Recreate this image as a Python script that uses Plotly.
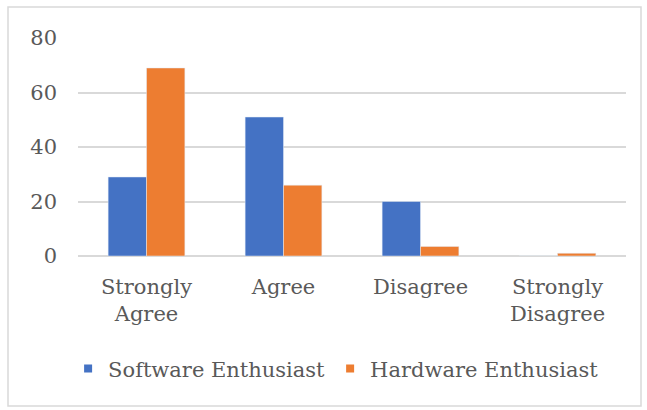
import plotly.graph_objects as go

categories = ["Strongly<br>Agree", "Agree", "Disagree", "Strongly<br>Disagree"]
software = [29, 51, 20, 0]
hardware = [69, 26, 3.5, 1]
y_ticks = [0, 20, 40, 60, 80]

BLUE = "#4472C4"
ORANGE = "#ED7D31"
FONT = "DejaVu Serif"
TXT = "#595959"

fig = go.Figure()
fig.add_trace(go.Bar(x=categories, y=software, name="Software Enthusiast",
                     marker=dict(color=BLUE), showlegend=False))
fig.add_trace(go.Bar(x=categories, y=hardware, name="Hardware Enthusiast",
                     marker=dict(color=ORANGE), showlegend=False))
fig.add_trace(go.Scatter(x=[None], y=[None], mode="markers", name="Software Enthusiast",
                         marker=dict(symbol="square", size=8, color=BLUE)))
fig.add_trace(go.Scatter(x=[None], y=[None], mode="markers", name="Hardware Enthusiast",
                         marker=dict(symbol="square", size=8, color=ORANGE)))

fig.update_layout(
    width=647, height=410,
    margin=dict(l=78, r=21, t=38, b=154),
    paper_bgcolor="white", plot_bgcolor="white",
    barmode="group", bargap=0.44, bargroupgap=0,
    font=dict(family=FONT, size=21, color=TXT),
    xaxis=dict(type="category", showgrid=False, showline=False, ticks="",
               ticklabelstandoff=16,
               tickfont=dict(family=FONT, size=21, color=TXT)),
    yaxis=dict(range=[0, 80], tickvals=y_ticks, showgrid=True, gridcolor="#D9D9D9",
               gridwidth=1.5, zeroline=True, zerolinecolor="#D9D9D9", zerolinewidth=1.5,
               showline=False, ticks="", ticklabelstandoff=20,
               tickfont=dict(family=FONT, size=21, color=TXT)),
    legend=dict(orientation="h", x=0.471, xanchor="center", y=-0.518, yanchor="middle",
                font=dict(family=FONT, size=21, color=TXT), itemwidth=30,
                bgcolor="rgba(0,0,0,0)"),
)
fig.add_shape(type="rect", xref="paper", yref="paper",
              x0=(8 - 78) / 548, x1=(641 - 78) / 548,
              y0=-(406 - 256) / 218, y1=(256 - 7) / 218,
              line=dict(color="#D9D9D9", width=1.5), layer="below")

fig.write_html("out.html")
